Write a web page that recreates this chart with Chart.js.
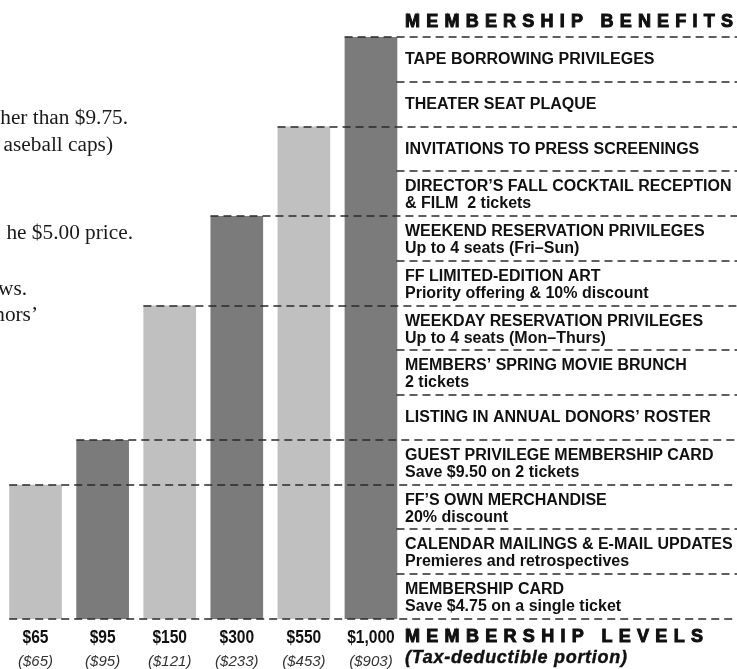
<!DOCTYPE html>
<html><head><meta charset="utf-8">
<script src="https://cdn.jsdelivr.net/npm/chart.js@4"></script>
<style>html,body{margin:0;padding:0;background:#fff;overflow:hidden}#wrap{width:737px;height:669px;position:relative}</style>
</head><body><div id="wrap"><canvas id="c" width="737" height="669"></canvas></div>
<script>
// ---- data ----
const levelLabels = ['$65','$95','$150','$300','$550','$1,000'];
const taxDeductible = ['($65)','($95)','($121)','($233)','($453)','($903)'];
const benefitCounts = [3,4,7,9,11,13];
// benefits listed from the bottom (basic) to the top
const benefitTitles = [
  'MEMBERSHIP CARD',
  'CALENDAR MAILINGS & E-MAIL UPDATES',
  'FF’S OWN MERCHANDISE',
  'GUEST PRIVILEGE MEMBERSHIP CARD',
  'LISTING IN ANNUAL DONORS’ ROSTER',
  'MEMBERS’ SPRING MOVIE BRUNCH',
  'WEEKDAY RESERVATION PRIVILEGES',
  'FF LIMITED-EDITION ART',
  'WEEKEND RESERVATION PRIVILEGES',
  'DIRECTOR’S FALL COCKTAIL RECEPTION',
  'INVITATIONS TO PRESS SCREENINGS',
  'THEATER SEAT PLAQUE',
  'TAPE BORROWING PRIVILEGES'
];
const benefitDetails = [
  'Save $4.75 on a single ticket',
  'Premieres and retrospectives',
  '20% discount',
  'Save $9.50 on 2 tickets',
  '',
  '2 tickets',
  'Up to 4 seats (Mon–Thurs)',
  'Priority offering & 10% discount',
  'Up to 4 seats (Fri–Sun)',
  '& FILM  2 tickets',
  '',
  '',
  ''
];
const sideNotes = ['her than $9.75.','aseball caps)','he $5.00 price.','ws.','nors’'];
const benefitsHeading = 'MEMBERSHIP BENEFITS';
const levelsHeading = 'MEMBERSHIP LEVELS';
const levelsSubheading = '(Tax-deductible portion)';

// ---- styles / layout ----
const LIGHT = '#c0c0c0', DARK = '#7b7b7b';
const noteRightX = [128,113,133,27,38];
const noteBaseY = [124,151,239,295,321];

function spacedText(ctx, text, x, y, width, font, stroke){
  ctx.font = font; ctx.letterSpacing = '0px';
  const nat = ctx.measureText(text).width;
  const sp = (width - nat) / (text.length - 1);
  ctx.letterSpacing = sp + 'px';
  ctx.fillText(text, x, y);
  if (stroke) { ctx.lineWidth = stroke; ctx.strokeText(text, x, y); }
  ctx.letterSpacing = '0px';
}

const infographic = {
  id: 'infographic',
  afterDatasetsDraw(chart){
    const ctx = chart.ctx, ys = chart.scales.y, meta = chart.getDatasetMeta(0);
    const W = chart.width;
    const panelX = chart.chartArea.right;
    const textX = panelX + 0.5;
    ctx.save();
    // dashed rules
    ctx.setLineDash([8,5]); ctx.lineWidth = 1.6; ctx.strokeStyle = '#2a2a2a';
    for (let k = 0; k <= benefitTitles.length; k++){
      let startX = panelX - 8;
      const i = benefitCounts.indexOf(k);
      if (k === 0) startX = meta.data[0].x - meta.data[0].width/2;
      else if (i >= 0) startX = meta.data[i].x - meta.data[i].width/2;
      const py = Math.round(ys.getPixelForValue(k));
      ctx.beginPath(); ctx.moveTo(startX, py); ctx.lineTo(W, py); ctx.stroke();
    }
    ctx.setLineDash([]);
    // benefit texts
    ctx.fillStyle = '#111'; ctx.textBaseline = 'middle'; ctx.textAlign = 'left';
    ctx.font = 'bold 16px "Liberation Sans", Arial, sans-serif';
    benefitTitles.forEach((t, k) => {
      const top = ys.getPixelForValue(k+1), bot = ys.getPixelForValue(k);
      if (benefitDetails[k]){
        ctx.fillText(t, textX, top + 15.5);
        ctx.fillText(benefitDetails[k], textX, top + 32.5);
      } else {
        ctx.fillText(t, textX, (top + bot)/2 + 0.5);
      }
    });
    // headings
    ctx.strokeStyle = '#111';
    spacedText(ctx, benefitsHeading, textX, 22, 328, 'bold 18px "Liberation Sans", Arial, sans-serif', 1);
    spacedText(ctx, levelsHeading, textX, 637, 298, 'bold 18px "Liberation Sans", Arial, sans-serif', 1);
    spacedText(ctx, levelsSubheading, textX, 658, 222, 'italic bold 18px "Liberation Sans", Arial, sans-serif', 0.4);
    // level labels
    ctx.textAlign = 'center';
    meta.data.forEach((bar, i) => {
      ctx.fillStyle = '#111';
      ctx.font = 'bold 19px "Liberation Sans", Arial, sans-serif';
      ctx.save();
      ctx.translate(bar.x, 638);
      ctx.scale(0.82, 1);
      ctx.fillText(levelLabels[i], 0, 0);
      ctx.restore();
      ctx.fillStyle = '#333';
      ctx.font = 'italic 15px "Liberation Sans", Arial, sans-serif';
      ctx.fillText(taxDeductible[i], bar.x, 662);
    });
    // side notes (cut off text column)
    ctx.textAlign = 'right'; ctx.textBaseline = 'alphabetic';
    ctx.fillStyle = '#1a1a1a';
    ctx.font = '21.3px "Liberation Serif", "DejaVu Serif", serif';
    sideNotes.forEach((t, i) => ctx.fillText(t, noteRightX[i], noteBaseY[i]));
    ctx.restore();
  }
};

new Chart(document.getElementById('c'), {
  type: 'bar',
  data: {
    labels: levelLabels,
    datasets: [{
      data: benefitCounts,
      backgroundColor: benefitCounts.map((_, i) => i % 2 ? DARK : LIGHT),
      borderWidth: 0,
      barPercentage: 0.785,
      categoryPercentage: 1
    }]
  },
  options: {
    responsive: false,
    animation: false,
    events: [],
    layout: { padding: { left: 2, right: 332.5, top: 37, bottom: 50 } },
    plugins: { legend: { display: false }, tooltip: { enabled: false } },
    scales: {
      x: { display: false, offset: true, grid: { display: false } },
      y: { display: false, min: 0, max: 13 }
    }
  },
  plugins: [infographic]
});
</script>
</body></html>
